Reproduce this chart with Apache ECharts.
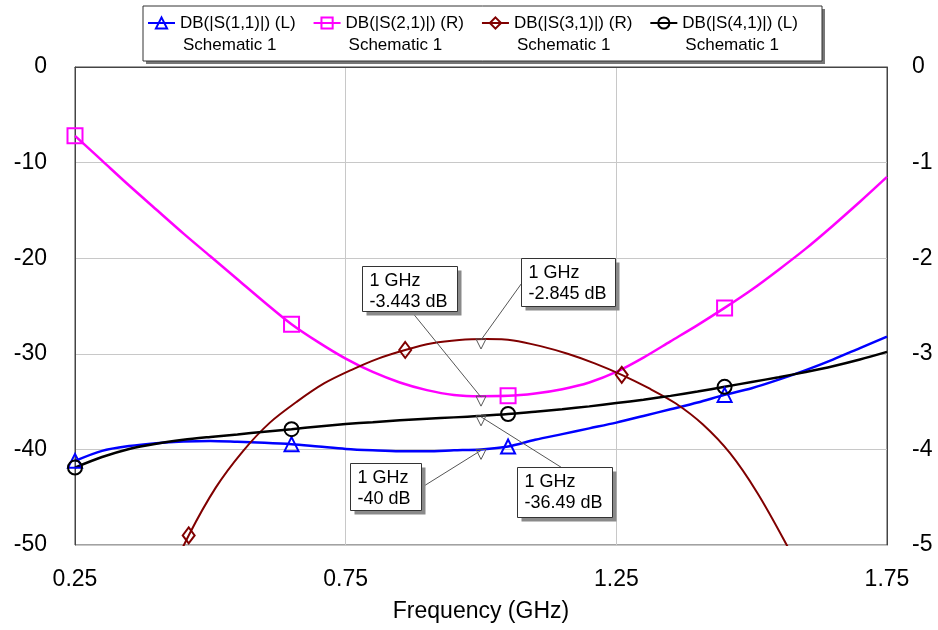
<!DOCTYPE html>
<html>
<head>
<meta charset="utf-8">
<script src="https://cdn.jsdelivr.net/npm/echarts@6/dist/echarts.min.js"></script>
<style>
  html, body { margin: 0; padding: 0; background: #fff; }
  #chart { width: 938px; height: 630px; }
</style>
</head>
<body>
<div id="chart"></div>
<script>
// frequency grid (GHz) for S11 / S21 / S41
const freq = [0.25, 0.3, 0.35, 0.4, 0.45, 0.5, 0.55, 0.6, 0.65, 0.7, 0.75, 0.8, 0.85, 0.9, 0.95, 1.0,
  1.05, 1.1, 1.15, 1.2, 1.25, 1.3, 1.35, 1.4, 1.45, 1.5, 1.55, 1.6, 1.65, 1.7, 1.75];
// left axis (dB)
const s11 = [-41.2, -40.15, -39.65, -39.35, -39.18, -39.12, -39.2, -39.3, -39.45, -39.7, -39.95, -40.1, -40.2, -40.2, -40.1, -40.0,
  -39.7, -39.0, -38.4, -37.8, -37.2, -36.5, -35.8, -35.1, -34.3, -33.6, -32.7, -31.7, -30.6, -29.4, -28.2];
const s41 = [-41.9, -40.8, -39.95, -39.4, -39.0, -38.7, -38.43, -38.15, -37.88, -37.6, -37.35, -37.15, -36.95, -36.8, -36.65, -36.49,
  -36.3, -36.05, -35.8, -35.5, -35.15, -34.8, -34.4, -33.95, -33.45, -32.95, -32.45, -31.9, -31.3, -30.6, -29.8];
// right axis (dB)
const s21 = [-0.72, -0.98, -1.24, -1.49, -1.74, -1.98, -2.22, -2.46, -2.69, -2.88, -3.05, -3.19, -3.30, -3.38, -3.43, -3.443,
  -3.44, -3.415, -3.37, -3.30, -3.19, -3.04, -2.87, -2.70, -2.52, -2.33, -2.12, -1.90, -1.66, -1.41, -1.15];
// S31 is sampled on its own grid
const s31Freq = [0.41, 0.46, 0.51, 0.56, 0.61, 0.66, 0.71, 0.76, 0.81, 0.86, 0.91, 0.96, 1.01,
  1.06, 1.11, 1.16, 1.21, 1.26, 1.31, 1.36, 1.41, 1.46, 1.51, 1.56, 1.61];
const s31 = [-5.5, -4.9, -4.4, -4.02, -3.72, -3.5, -3.31, -3.17, -3.05, -2.96, -2.89, -2.855, -2.846,
  -2.86, -2.92, -3.0, -3.1, -3.22, -3.36, -3.52, -3.74, -4.04, -4.45, -4.95, -5.5];

const seriesNames = ['DB(|S(1,1)|) (L)', 'DB(|S(2,1)|) (R)', 'DB(|S(3,1)|) (R)', 'DB(|S(4,1)|) (L)'];
const schematicName = 'Schematic 1';
const markerFreqs = [0.25, 0.65, 1.05, 1.45];
const s31MarkerFreqs = [0.46, 0.86, 1.26];
// marker readouts at 1 GHz: S11, S21, S31, S41
const probeFreq = 1.0;
const probeValues = [-40, -3.443, -2.845, -36.49];

const xTicks = [0.25, 0.75, 1.25, 1.75];
const FONT = "'Liberation Sans', Arial, sans-serif";

const chart = echarts.init(document.getElementById('chart'));

function lineData(xs, ys, marks) {
  return xs.map((x, i) => {
    const isMark = marks.some(m => Math.abs(m - x) < 1e-6);
    return isMark ? [x, ys[i]] : { value: [x, ys[i]], symbol: 'none' };
  });
}

function makeSeries(name, color, symbol, size, xs, ys, marks, yAxisIndex, probe, width) {
  return {
    name: name,
    type: 'line',
    yAxisIndex: yAxisIndex,
    smooth: 0.3,
    symbol: symbol,
    symbolSize: size,
    showSymbol: true,
    color: color,
    lineStyle: { color: color, width: width },
    itemStyle: { color: 'rgba(255,255,255,0)', borderColor: color, borderWidth: 2 },
    data: lineData(xs, ys, marks),
    markPoint: {
      silent: true,
      symbol: 'path://M0,0L10,0L5,10Z',
      symbolSize: [10, 10],
      symbolOffset: [0, 5],
      itemStyle: { color: 'rgba(255,255,255,0)', borderColor: '#555', borderWidth: 1 },
      label: { show: false },
      data: [{ coord: [probeFreq, probe] }]
    }
  };
}

const legendText = { fontSize: 17, color: '#000', fontFamily: FONT, lineHeight: 22, align: 'left' };

chart.setOption({
  animation: false,
  grid: { left: 75, right: 51, top: 67, bottom: 85, show: true, borderColor: '#444', borderWidth: 1 },
  legend: {
    data: seriesNames,
    left: 147,
    // top padding on the text keeps the icon level with the first line
    top: -10,
    itemWidth: 27,
    itemHeight: 14,
    itemGap: 17,
    padding: 0,
    selectedMode: false,
    formatter: name => '{a|' + name + '}\n{b|' + schematicName + '}',
    textStyle: Object.assign({
      padding: [22, 0, 0, 0],
      rich: {
        a: Object.assign({}, legendText),
        b: Object.assign({ padding: [0, 0, 0, 3] }, legendText)
      }
    }, legendText)
  },
  xAxis: {
    type: 'value',
    min: 0.25,
    max: 1.75,
    interval: 0.5,
    name: 'Frequency (GHz)',
    nameLocation: 'middle',
    nameGap: 55,
    nameTextStyle: { fontSize: 23, color: '#000', fontFamily: FONT },
    axisLine: { show: true, lineStyle: { color: '#444' } },
    axisTick: { show: false },
    axisLabel: {
      fontSize: 23, color: '#000', fontFamily: FONT, margin: 23,
      customValues: xTicks,
      formatter: v => v.toFixed(2)
    },
    splitLine: { show: true, lineStyle: { color: '#c8c8c8', width: 1 } }
  },
  yAxis: [
    {
      type: 'value', min: -50, max: 0, interval: 10, position: 'left',
      axisLine: { show: true, lineStyle: { color: '#444' } },
      axisTick: { show: false },
      axisLabel: { fontSize: 23, color: '#000', fontFamily: FONT, margin: 28 },
      splitLine: { show: true, lineStyle: { color: '#c8c8c8', width: 1 } }
    },
    {
      type: 'value', min: -5, max: 0, interval: 1, position: 'right',
      axisLine: { show: true, lineStyle: { color: '#444' } },
      axisTick: { show: false },
      axisLabel: { fontSize: 23, color: '#000', fontFamily: FONT, margin: 25 },
      splitLine: { show: false }
    }
  ],
  series: [
    makeSeries(seriesNames[0], '#0000ff', 'triangle', 14, freq, s11, markerFreqs, 0, probeValues[0], 2.5),
    makeSeries(seriesNames[1], '#ff00ff', 'rect', 15, freq, s21, markerFreqs, 1, probeValues[1], 2.5),
    makeSeries(seriesNames[2], '#800000', 'diamond', [12, 16], s31Freq, s31, s31MarkerFreqs, 1, probeValues[2], 2),
    makeSeries(seriesNames[3], '#000000', 'circle', 14, freq, s41, markerFreqs, 0, probeValues[3], 2.5)
  ]
});

// callout boxes for the 1 GHz markers (offsets relative to the marker point)
const callouts = [
  { yAxis: 0, dx: -131, dy: 14, w: 71, h: 47, ax: 71, ay: 24 },
  { yAxis: 1, dx: -119, dy: -130, w: 95, h: 45, ax: 49, ay: 45 },
  { yAxis: 1, dx: 40, dy: -81, w: 94, h: 48, ax: 0, ay: 25 },
  { yAxis: 0, dx: 36, dy: 51, w: 95, h: 50, ax: 44, ay: 0 }
];

const graphics = [
  { type: 'rect', z: 1, shape: { x: 146, y: 9, width: 679, height: 55 }, style: { fill: '#777' } },
  { type: 'rect', z: 1, shape: { x: 143, y: 6, width: 679, height: 55 }, style: { fill: '#fff', stroke: '#333', lineWidth: 1 } }
];

callouts.forEach((c, i) => {
  const p = chart.convertToPixel({ xAxisIndex: 0, yAxisIndex: c.yAxis }, [probeFreq, probeValues[i]]);
  const bx = Math.round(p[0] + c.dx) + 0.5;
  const by = Math.round(p[1] + c.dy) + 0.5;
  graphics.push(
    { type: 'line', z: 50, shape: { x1: bx + c.ax, y1: by + c.ay, x2: p[0], y2: p[1] + 1 }, style: { stroke: '#555', lineWidth: 1 } },
    { type: 'rect', z: 51, shape: { x: bx + 4, y: by + 4, width: c.w, height: c.h }, style: { fill: '#8a8a8a' } },
    { type: 'rect', z: 52, shape: { x: bx, y: by, width: c.w, height: c.h }, style: { fill: '#fff', stroke: '#333', lineWidth: 1 } },
    {
      type: 'text', z: 53, x: bx + 7, y: by + 4,
      style: { text: '1 GHz\n' + probeValues[i] + ' dB', font: '18px ' + FONT, lineHeight: 21, fill: '#000' }
    }
  );
});

chart.setOption({ graphic: graphics });
</script>
</body>
</html>
